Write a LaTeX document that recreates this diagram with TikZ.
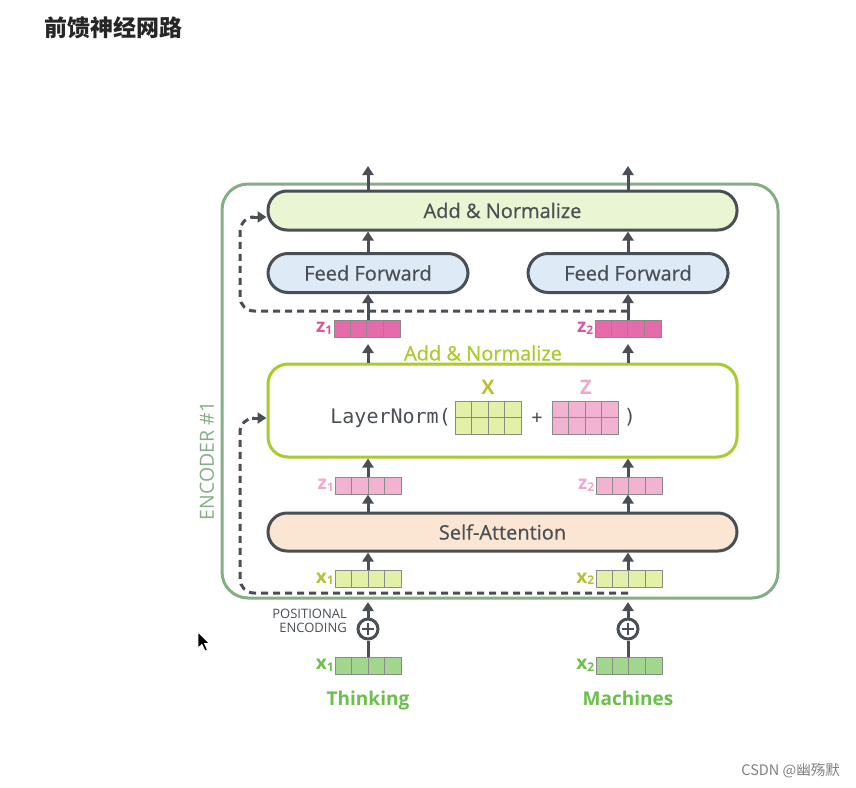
\documentclass[tikz,border=0pt]{standalone}
\usepackage{fontspec}
\setmainfont{Open Sans}
\newfontfamily\medf[FakeBold=0.6]{Open Sans}
\newfontfamily\cjk{Noto Sans CJK SC}
\newfontfamily\monof{DejaVu Sans Mono}
\usetikzlibrary{arrows.meta}
\definecolor{dk}{HTML}{4A4F55}
\definecolor{encg}{HTML}{86AE86}
\definecolor{anfill}{HTML}{EAF5D3}
\definecolor{fffill}{HTML}{DEEAF6}
\definecolor{safill}{HTML}{FBE6D3}
\definecolor{lnb}{HTML}{A8CC2C}
\definecolor{zdk}{HTML}{E66BAA}
\definecolor{zlt}{HTML}{F2B3D2}
\definecolor{zlab}{HTML}{F0A7CC}
\definecolor{zdlab}{HTML}{E0569A}
\definecolor{xv}{HTML}{E3F1A8}
\definecolor{xlab}{HTML}{B5C234}
\definecolor{gv}{HTML}{A0D68E}
\definecolor{glab}{HTML}{6CBF4A}
\definecolor{cellb}{HTML}{8A8A8A}
\tikzset{
  x=1pt,y=-1pt,
  pill/.style={draw=dk,line width=3pt,rounded corners=19pt,minimum height=39pt,inner sep=0pt,font=\medf\fontsize{20}{22}\selectfont,text=dk},
  arr/.style={draw=dk,line width=3pt,-{Triangle[width=11pt,length=9pt]}},
  dsh/.style={draw=dk,line width=3pt,dash pattern=on 7pt off 5pt},
  vecn/.style={draw=cellb,line width=1pt,minimum width=66pt,minimum height=17pt,inner sep=0pt},
  matn/.style={draw=cellb,line width=1pt,minimum width=66pt,minimum height=33pt,inner sep=0pt},
  lab/.style={anchor=east,inner sep=1pt,font=\fontsize{19}{19}\selectfont\bfseries},
}
\newcommand\cells[1]{\foreach \s in {16.5,33,49.5}{\draw[cellb,line width=1pt] ([xshift=\s pt]#1.north west) -- ([xshift=\s pt]#1.south west);}}
\newcommand\sub[1]{\raisebox{-1.5pt}{\fontsize{12}{12}\selectfont #1}}
\begin{document}
\begin{tikzpicture}
\useasboundingbox[fill=white] (0,0) rectangle (856,787);
% title
\node[anchor=west,inner sep=0pt,font=\cjk\fontsize{23}{23}\selectfont\bfseries,text=black!85] (title) at (44,28) {前馈神经网路};
% encoder box
\draw[encg,line width=3pt,rounded corners=26pt] (222,184) rectangle (778,598);
\node[rotate=90,font=\fontsize{19.5}{20}\selectfont,text=encg] (enc) at (207,461) {ENCODER \#1};
% top boxes
\node[pill,fill=anfill,minimum width=469pt] (an) at (502.5,210.5) {Add \& Normalize};
\node[pill,fill=fffill,minimum width=200pt,rounded corners=20pt] (ff1) at (368,273) {Feed Forward};
\node[pill,fill=fffill,minimum width=200pt,rounded corners=20pt] (ff2) at (628,273) {Feed Forward};
% z vectors (dark)
\node[vecn,fill=zdk] (zd1) at (367,328.5) {}; \cells{zd1}
\node[vecn,fill=zdk] (zd2) at (628,328.5) {}; \cells{zd2}
\node[lab,text=zdlab] at (zd1.west) {z\sub{1}};
\node[lab,text=zdlab] at (zd2.west) {z\sub{2}};
% LN box
\node[draw=lnb,line width=3pt,rounded corners=20pt,minimum width=469pt,minimum height=93pt,inner sep=0pt] (ln) at (502.5,410.5) {};
\node[font=\medf\fontsize{20}{22}\selectfont,text=lnb] (anl) at (483,353) {Add \& Normalize};
\node[anchor=east,inner sep=0pt,font=\monof\fontsize{20}{22}\selectfont,text=dk] (lnt) at (451,418) {LayerNorm(};
\node[matn,fill=xv] (mx) at (488.5,417.5) {}; \cells{mx} \draw[cellb,line width=1pt] (mx.west) -- (mx.east);
\node[matn,fill=zlt] (mz) at (585.5,417.5) {}; \cells{mz} \draw[cellb,line width=1pt] (mz.west) -- (mz.east);
\node[font=\monof\fontsize{18}{20}\selectfont,text=dk] (plus) at (537,418) {+};
\node[font=\monof\fontsize{20}{22}\selectfont,text=dk] (rp) at (630,417) {)};
\node[font=\fontsize{20}{20}\selectfont\bfseries,text=xlab] (X) at (488,387) {X};
\node[font=\fontsize{20}{20}\selectfont\bfseries,text=zlab] (Z) at (586,387) {Z};
% z vectors (light)
\node[vecn,fill=zlt] (zl1) at (368.5,485.5) {}; \cells{zl1}
\node[vecn,fill=zlt] (zl2) at (629,485.5) {}; \cells{zl2}
\node[lab,text=zlab] at (zl1.west) {z\sub{1}};
\node[lab,text=zlab] at (zl2.west) {z\sub{2}};
% self attention
\node[pill,fill=safill,minimum width=469pt,minimum height=38pt] (sa) at (502.5,532) {Self-Attention};
% x vectors
\node[vecn,fill=xv] (xa1) at (368.5,579) {}; \cells{xa1}
\node[vecn,fill=xv] (xa2) at (629,579) {}; \cells{xa2}
\node[lab,text=xlab] at (xa1.west) {x\sub{1}};
\node[lab,text=xlab] at (xa2.west) {x\sub{2}};
% positional encoding
\node[draw=dk,line width=3pt,circle,minimum size=20pt,inner sep=0pt] (pe1) at (368,629) {};
\node[draw=dk,line width=3pt,circle,minimum size=20pt,inner sep=0pt] (pe2) at (628,629) {};
\foreach \p in {pe1,pe2}{\draw[dk,line width=2.5pt] ([xshift=-6pt]\p.center) -- ([xshift=6pt]\p.center) ([yshift=-6pt]\p.center) -- ([yshift=6pt]\p.center);}
\node[anchor=east,align=right,inner sep=0pt,font=\fontsize{13}{14.5}\selectfont,text=dk] (pet) at (347,621) {POSITIONAL\\ENCODING};
% bottom vectors
\node[vecn,fill=gv] (xb1) at (368.5,665.5) {}; \cells{xb1}
\node[vecn,fill=gv] (xb2) at (629,665.5) {}; \cells{xb2}
\node[lab,text=glab] at (xb1.west) {x\sub{1}};
\node[lab,text=glab] at (xb2.west) {x\sub{2}};
\node[anchor=base,font=\fontsize{19}{20}\selectfont\bfseries,text=glab] (w1) at (368,705) {Thinking};
\node[anchor=base,font=\fontsize{19}{20}\selectfont\bfseries,text=glab] (w2) at (628,705) {Machines};
% coordinates
\coordinate (o1) at (368,166);
\coordinate (o2) at (628,166);
\coordinate (p1) at (368,602);
\coordinate (p2) at (628,602);
\coordinate (q1) at (368,344);
\coordinate (q2) at (628,344);
\coordinate (dA) at (628,593);
\coordinate (dB) at (628,311);
% arrows
\draw[arr] (an.north -| o1) -- (o1);
\draw[arr] (an.north -| o2) -- (o2);
\draw[arr] (ff1.north) -- (an.south -| ff1.north);
\draw[arr] (ff2.north) -- (an.south -| ff2.north);
\draw[arr] (zd1.north -| ff1.south) -- (ff1.south);
\draw[arr] (zd2.north -| ff2.south) -- (ff2.south);
\draw[arr] (ln.north -| q1) -- (q1);
\draw[arr] (ln.north -| q2) -- (q2);
\draw[arr] (zl1.north -| q1) -- (ln.south -| q1);
\draw[arr] (zl2.north -| q2) -- (ln.south -| q2);
\draw[arr] (sa.north -| q1) -- (zl1.south -| q1);
\draw[arr] (sa.north -| q2) -- (zl2.south -| q2);
\draw[arr] (xa1.north -| q1) -- (sa.south -| q1);
\draw[arr] (xa2.north -| q2) -- (sa.south -| q2);
\draw[arr] (pe1.north) -- (p1);
\draw[arr] (pe2.north) -- (p2);
\draw[dk,line width=3pt] (xb1.north -| pe1) -- (pe1.south);
\draw[dk,line width=3pt] (xb2.north -| pe2) -- (pe2.south);
% dashed residuals
\draw[dsh,rounded corners=14pt] (dA) -- (240,593) -- (240,418) -- (254,418);
\draw[dk,line width=3pt,-{Triangle[width=11pt,length=9pt]}] (252,418) -- (ln.west |- 0,418);
\draw[dsh,rounded corners=14pt] (dB) -- (240,311) -- (240,217) -- (254,217);
\draw[dk,line width=3pt,-{Triangle[width=11pt,length=9pt]}] (252,217) -- (an.west |- 0,217);
% cursor
\draw[fill=black,draw=white,line width=0.8pt] (198,632) -- (198,648) -- (202,644.5) -- (205,651) -- (207.5,650) -- (204.5,643.5) -- (209.5,643.5) -- cycle;
% watermark
\node[anchor=east,inner sep=0pt,font=\cjk\fontsize{14.5}{14.5}\selectfont,text=black!50] (wm) at (840,771) {CSDN @幽殇默};
\end{tikzpicture}
\end{document}
